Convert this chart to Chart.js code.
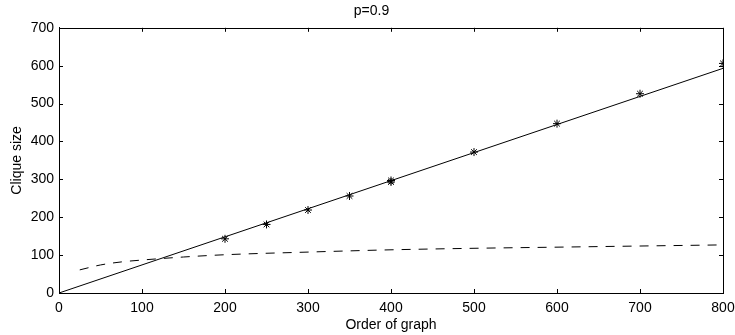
<!DOCTYPE html>
<html lang="en">
<head>
  <meta charset="UTF-8">
  <title>p=0.9</title>
  <script src="https://cdn.jsdelivr.net/npm/chart.js"></script>
  <style>
    html, body { margin: 0; padding: 0; background: #fff; }
    #wrap { width: 735px; height: 335px; }
  </style>
</head>
<body>
<div id="wrap"><canvas id="chart"></canvas></div>
<script>
// measured clique sizes (stars)
const orders = [200, 250, 300, 350, 400, 400, 500, 600, 700, 800];
const cliques = [143, 181, 219, 256, 293, 297, 372, 447, 526, 606];

// fitted straight line
const fitX = [0, 800];
const fitY = [0, 593];

// dashed reference curve
const curveX = [25, 50, 75, 100, 150, 200, 300, 400, 500, 600, 700, 800];
const curveY = [61, 74, 82, 87, 95, 101, 108, 114, 118, 121, 124, 127];

const xTicks = [0, 100, 200, 300, 400, 500, 600, 700, 800];
const yTicks = [0, 100, 200, 300, 400, 500, 600, 700];

const toPoints = (xs, ys) => xs.map((x, i) => ({ x: x, y: ys[i] }));

Chart.defaults.font.family = '"Liberation Sans", Arial, Helvetica, sans-serif';
Chart.defaults.font.size = 14;
Chart.defaults.color = '#000';

// box round the plot area, ticks pointing inward on all four sides
const boxTicks = {
  id: 'boxTicks',
  afterDraw(chart) {
    const ctx = chart.ctx;
    const a = chart.chartArea;
    const sx = chart.scales.x, sy = chart.scales.y;
    const len = 4;
    ctx.save();
    ctx.strokeStyle = '#000';
    ctx.lineWidth = 1;
    ctx.beginPath();
    ctx.rect(Math.round(a.left) + 0.5, Math.round(a.top) + 0.5,
             Math.round(a.right - a.left), Math.round(a.bottom - a.top));
    xTicks.forEach(v => {
      const px = Math.round(sx.getPixelForValue(v)) + 0.5;
      ctx.moveTo(px, a.bottom); ctx.lineTo(px, a.bottom - len);
      ctx.moveTo(px, a.top); ctx.lineTo(px, a.top + len);
    });
    yTicks.forEach(v => {
      const py = Math.round(sy.getPixelForValue(v)) + 0.5;
      ctx.moveTo(a.left, py); ctx.lineTo(a.left + len, py);
      ctx.moveTo(a.right, py); ctx.lineTo(a.right - len, py);
    });
    ctx.stroke();
    ctx.restore();
  }
};

new Chart(document.getElementById('chart'), {
  type: 'scatter',
  data: {
    datasets: [
      {
        label: 'fit',
        data: toPoints(fitX, fitY),
        showLine: true,
        borderColor: '#000',
        borderWidth: 1,
        pointRadius: 0
      },
      {
        label: 'bound',
        data: toPoints(curveX, curveY),
        showLine: true,
        cubicInterpolationMode: 'monotone',
        borderColor: '#000',
        borderWidth: 1,
        borderDash: [9, 8],
        pointRadius: 0
      },
      {
        label: 'clique',
        data: toPoints(orders, cliques),
        showLine: false,
        pointStyle: 'star',
        pointRadius: 4,
        borderColor: '#000',
        borderWidth: 1,
        backgroundColor: '#000'
      }
    ]
  },
  plugins: [boxTicks],
  options: {
    responsive: true,
    maintainAspectRatio: false,
    animation: false,
    layout: { padding: { top: 0, right: 0, bottom: 0, left: 8 } },
    plugins: {
      legend: { display: false },
      tooltip: { enabled: false },
      title: {
        display: true,
        text: 'p=0.9',
        font: { size: 14, weight: 'normal' },
        padding: { top: 3, bottom: 8 }
      }
    },
    scales: {
      x: {
        type: 'linear',
        min: 0,
        max: 800,
        afterBuildTicks: s => { s.ticks = xTicks.map(v => ({ value: v })); },
        afterFit: s => { s.height = 42; s.paddingLeft = 0; s.paddingRight = 12; },
        ticks: { padding: 7, maxRotation: 0 },
        grid: { drawOnChartArea: false, drawTicks: false },
        border: { display: true, color: '#000' },
        title: { display: true, text: 'Order of graph', padding: { top: 0, bottom: 1 } }
      },
      y: {
        min: 0,
        max: 700,
        afterBuildTicks: s => { s.ticks = yTicks.map(v => ({ value: v })); },
        afterFit: s => { s.width = 51; s.paddingTop = 0; s.paddingBottom = 0; },
        ticks: { padding: 5 },
        grid: { drawOnChartArea: false, drawTicks: false },
        border: { display: true, color: '#000' },
        title: { display: true, text: 'Clique size', padding: { top: 1, bottom: 0 } }
      }
    }
  }
});
</script>
</body>
</html>
